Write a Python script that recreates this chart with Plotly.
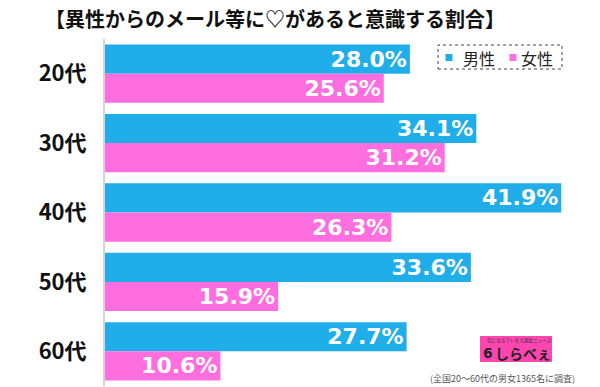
import plotly.graph_objects as go

categories = ["20代", "30代", "40代", "50代", "60代"]
male = [28.0, 34.1, 41.9, 33.6, 27.7]
female = [25.6, 31.2, 26.3, 15.9, 10.6]
series_names = ["男性", "女性"]
title_text = "【異性からのメール等に♡があると意識する割合】"
footnote = "(全国20〜60代の男女1365名に調査)"

BLUE = "#1FAEE9"
PINK = "#FF6EDF"
JP = "Noto Sans CJK JP"
NUM = "DejaVu Sans"

L, T, W, H = 105, 39, 490, 347


def px(x):
    return (x - L) / W


def py(y):
    return 1 - (y - T) / H


fig = go.Figure()
for name, vals, col in [(series_names[0], male, BLUE), (series_names[1], female, PINK)]:
    fig.add_trace(go.Bar(
        y=categories, x=vals, name=name, orientation="h",
        marker=dict(color=col, line=dict(width=0)),
        texttemplate="%{x:.1f}%", textposition="inside", insidetextanchor="end",
        constraintext="none",
        textfont=dict(family=NUM, size=22, color="white", weight="bold"),
        hoverinfo="skip", showlegend=False,
    ))

fig.update_layout(
    template="none",
    width=600, height=387,
    margin=dict(l=L, r=600 - L - W, t=T, b=387 - T - H, autoexpand=False),
    paper_bgcolor="white", plot_bgcolor="white",
    barmode="group", bargap=0.16, bargroupgap=0,
    showlegend=False,
    xaxis=dict(range=[0, 45], showgrid=False, zeroline=False, showticklabels=False,
               showline=False, fixedrange=True, automargin=False),
    yaxis=dict(autorange="reversed", showgrid=False, zeroline=False, automargin=False,
               showline=True, linecolor="#d4d4d4", linewidth=2, fixedrange=True,
               ticks="", ticklabelstandoff=12,
               tickfont=dict(family=JP, size=22, color="#111", weight="bold")),
    font=dict(family=JP),
)


def note(text, x, y, size, color="#222", family=JP, weight="normal", anchor="center"):
    fig.add_annotation(text=text, xref="paper", yref="paper", x=px(x), y=py(y),
                       xanchor=anchor, yanchor="middle", showarrow=False,
                       font=dict(family=family, size=size, color=color, weight=weight))


# title
note(title_text, 275, 18, 20, color="#111", weight="bold")

# legend (dotted frame, colour keys, names)
fig.add_shape(type="rect", xref="paper", yref="paper",
              x0=px(438), x1=px(562), y0=py(69), y1=py(45),
              line=dict(color="#444", width=1, dash="dot"), fillcolor="white",
              layer="above")
for name, col, xs, xt in [(series_names[0], BLUE, 449, 461), (series_names[1], PINK, 513, 519)]:
    fig.add_shape(type="rect", xref="paper", yref="paper",
                  x0=px(xs - 3.5), x1=px(xs + 3.5), y0=py(61), y1=py(54),
                  line=dict(width=0), fillcolor=col, layer="above")
    note(name, xt, 57.5, 16, anchor="left")

# logo
fig.add_shape(type="rect", xref="paper", yref="paper",
              x0=px(480), x1=px(552), y0=py(362), y1=py(336),
              line=dict(width=0), fillcolor="#FF45B0", layer="above")
note("気になるアレを大調査ニュース!", 520, 340.5, 4.6, color="#333")
note("<b>6</b>", 488, 353, 14, family=NUM)
note("しらべぇ", 523, 353, 14, weight="bold")

# footnote
note(footnote, 502, 378, 9, color="#555")

fig.write_html("out.html", config={"displayModeBar": False},
               post_script="document.body.style.margin='0';document.body.style.overflow='hidden';")
